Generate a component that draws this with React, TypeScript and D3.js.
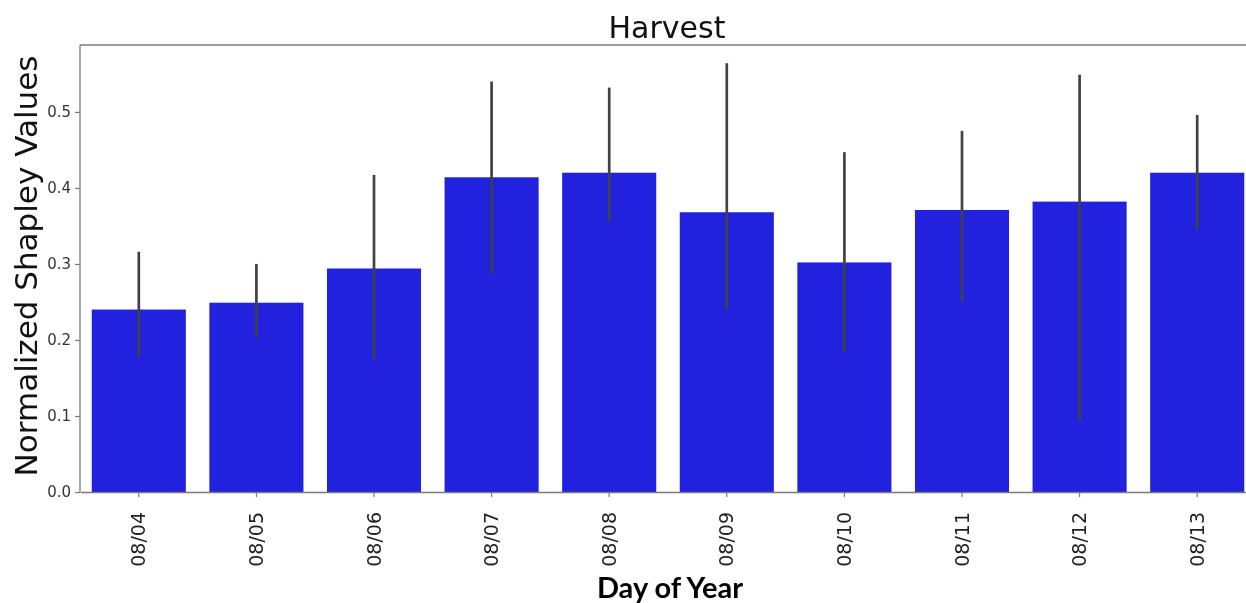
import React, { useRef, useEffect } from 'react'
import * as d3 from "d3";

// values
const days = ["08/04", "08/05", "08/06", "08/07", "08/08", "08/09", "08/10", "08/11", "08/12", "08/13"];
const means = [0.240, 0.249, 0.294, 0.414, 0.420, 0.368, 0.302, 0.371, 0.382, 0.420];
const errLow = [0.178, 0.203, 0.175, 0.287, 0.356, 0.240, 0.184, 0.250, 0.093, 0.345];
const errHigh = [0.316, 0.300, 0.417, 0.540, 0.532, 0.564, 0.447, 0.475, 0.549, 0.496];
const yTicks = [0.0, 0.1, 0.2, 0.3, 0.4, 0.5];

function App() {
    const chartRef = useRef(null);

    useEffect(() => {
        const width = 1246;
        const height = 603;
        // right spine sits just outside the picture
        const margin = { top: 45, right: -10, bottom: 111, left: 80 };

        d3.select(chartRef.current).selectAll("*").remove();

        const svg = d3.select(chartRef.current)
            .attr("width", width)
            .attr("height", height);

        const x = d3.scaleBand()
            .domain(days)
            .range([margin.left, width - margin.right])
            .paddingInner(0.2)
            .paddingOuter(0.1);

        const y = d3.scaleLinear()
            .domain([0, 0.588])
            .range([height - margin.bottom, margin.top]);

        const data = days.map((d, i) => ({ day: d, v: means[i], lo: errLow[i], hi: errHigh[i] }));

        // bars
        svg.selectAll(".bar")
            .data(data)
            .enter()
            .append("rect")
            .attr("class", "bar")
            .attr("x", d => x(d.day))
            .attr("y", d => y(d.v))
            .attr("width", x.bandwidth())
            .attr("height", d => y(0) - y(d.v))
            .attr("fill", "#2121de");

        // error bars
        svg.selectAll(".err")
            .data(data)
            .enter()
            .append("line")
            .attr("class", "err")
            .attr("x1", d => x(d.day) + x.bandwidth() / 2)
            .attr("x2", d => x(d.day) + x.bandwidth() / 2)
            .attr("y1", d => y(d.lo))
            .attr("y2", d => y(d.hi))
            .attr("stroke", "#424242")
            .attr("stroke-width", 2.7);

        // spines
        const spine = "#7a7a7a";
        svg.append("line")
            .attr("x1", margin.left).attr("x2", width)
            .attr("y1", margin.top).attr("y2", margin.top)
            .attr("stroke", spine).attr("stroke-width", 1.3);
        svg.append("line")
            .attr("x1", margin.left).attr("x2", margin.left)
            .attr("y1", margin.top).attr("y2", y(0))
            .attr("stroke", spine).attr("stroke-width", 1.3);

        // x axis
        const xAxis = svg.append("g")
            .attr("transform", `translate(0, ${y(0)})`)
            .call(d3.axisBottom(x).tickSize(5).tickPadding(6).tickSizeOuter(0));
        xAxis.select(".domain").attr("stroke", spine).attr("stroke-width", 1.3);
        xAxis.selectAll(".tick line").attr("stroke", spine).attr("stroke-width", 1.2);
        xAxis.selectAll("text")
            .attr("transform", "rotate(-90)")
            .attr("x", -20)
            .attr("y", 0)
            .attr("dy", "0.35em")
            .style("text-anchor", "end")
            .style("font-family", "DejaVu Sans")
            .style("font-size", "19px")
            .attr("fill", "#222");

        // y axis
        const yAxis = svg.append("g")
            .attr("transform", `translate(${margin.left}, 0)`)
            .call(d3.axisLeft(y).tickValues(yTicks).tickFormat(d3.format(".1f")).tickSize(5).tickPadding(4));
        yAxis.select(".domain").remove();
        yAxis.selectAll(".tick line").attr("stroke", spine).attr("stroke-width", 1.2);
        yAxis.selectAll("text")
            .style("font-family", "DejaVu Sans")
            .style("font-size", "15px")
            .attr("fill", "#333");

        // title
        svg.append("text")
            .attr("x", 667)
            .attr("y", 38)
            .attr("text-anchor", "middle")
            .style("font-family", "DejaVu Sans")
            .style("font-size", "30px")
            .attr("fill", "#111")
            .text("Harvest");

        // y label
        svg.append("text")
            .attr("transform", "rotate(-90)")
            .attr("x", -266)
            .attr("y", 37)
            .attr("text-anchor", "middle")
            .style("font-family", "DejaVu Sans")
            .style("font-size", "31px")
            .attr("fill", "#111")
            .text("Normalized Shapley Values");

        // x label
        svg.append("text")
            .attr("x", 670)
            .attr("y", 598)
            .attr("text-anchor", "middle")
            .style("font-family", "Lato")
            .style("font-weight", "bold")
            .style("font-size", "29px")
            .attr("fill", "#000")
            .text("Day of Year");
    }, []);

    return (
        <div style={{ width: "100%" }}>
            <svg ref={chartRef} style={{ position: "fixed", left: 0, top: 0 }}></svg>
        </div>
    )
}

export default App
